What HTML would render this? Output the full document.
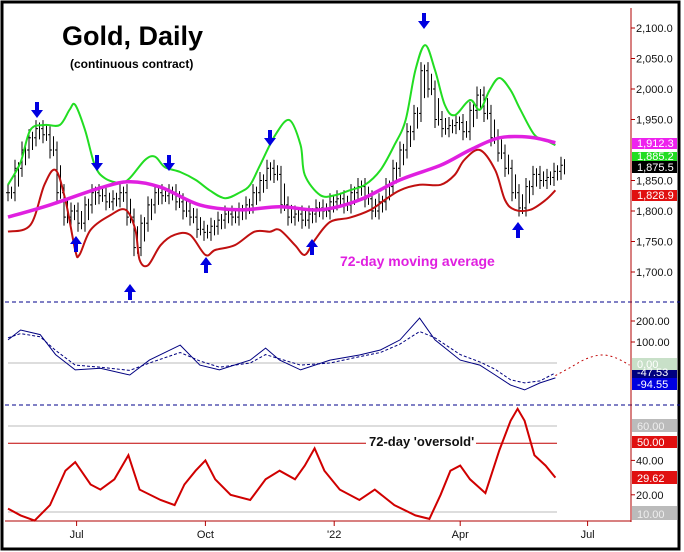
<!DOCTYPE html>
<html><head><meta charset="utf-8"><style>
html,body{margin:0;padding:0;background:#fff}
svg{display:block;font-family:"Liberation Sans",sans-serif}
</style></head><body>
<svg id="chart" width="684" height="552" viewBox="0 0 684 552">
<rect x="2" y="2" width="677" height="547" fill="#fff" stroke="#000" stroke-width="3"/>
<g id="grid"></g>
<g id="marks"></g>
<g id="annot"></g>
</svg>
<script>
// ---- data ----
const priceDays = Array.from({length:80},(_,i)=>i*5);
const closes = [1830,1870,1900,1920,1935,1925,1900,1830,1790,1800,1780,1810,1830,1825,1815,1820,1830,1790,1740,1780,1810,1830,1825,1830,1815,1800,1790,1770,1765,1775,1785,1795,1790,1800,1810,1830,1850,1870,1860,1810,1790,1795,1785,1795,1805,1800,1815,1820,1810,1830,1840,1820,1800,1815,1840,1870,1900,1930,1960,2030,2000,1950,1935,1940,1945,1930,1965,1990,1960,1920,1895,1870,1830,1805,1840,1860,1850,1855,1865,1875];
const upperX = [0,9,16,26,37,44,48,55,62,69,80,87,98,105,112,123,134,144,155,166,173,180,191,201,209,212,223,234,244,255,266,276,284,291,298,305,312,319,330,337,344,351,359,366,376,384,391];
const upperBand = [1843,1880,1933,1941,1941,1966,1974,1933,1875,1854,1846,1854,1884,1889,1872,1864,1851,1834,1821,1831,1843,1875,1925,1949,1908,1859,1826,1826,1834,1843,1867,1908,1949,2031,2072,2031,1974,1957,1982,1966,1998,2018,1998,1966,1925,1916,1908];
const lowerX = [0,16,26,34,41,48,51,59,73,84,91,94,100,109,119,130,141,148,162,176,187,194,205,212,219,230,244,259,269,280,294,309,319,326,337,348,355,362,373,384,391];
const lowerBand = [1766,1777,1843,1867,1818,1736,1728,1769,1793,1802,1769,1720,1711,1744,1761,1761,1728,1736,1744,1766,1766,1769,1744,1728,1752,1782,1789,1802,1818,1834,1843,1843,1859,1884,1900,1867,1818,1802,1802,1818,1834];
const maX = [0,30,66,87,109,137,166,194,223,251,280,309,330,351,373,391];
const maVals = [1790,1810,1838,1848,1839,1810,1802,1807,1802,1818,1851,1875,1900,1920,1921,1912];
const oscX = [0,9,23,34,48,66,87,101,123,137,151,173,184,194,209,230,251,266,280,294,305,323,337,348,359,369,380,391];
const oscVals = [110,157,135,40,-33,-25,-57,14,85,-10,-33,14,71,14,-33,14,38,62,110,214,110,14,-10,-57,-105,-128,-95,-71];
const oscSig = [120,140,125,60,-10,-20,-35,0,50,10,-20,0,40,20,-10,0,30,50,90,150,120,40,5,-30,-80,-95,-85,-47];
const projX = [391,402,413,424,434,444];
const projVals = [-60,-20,20,38,25,-10];
const ovX = [0,9,19,30,41,48,59,66,76,86,94,109,119,126,134,141,148,159,173,184,194,205,212,219,226,237,251,262,276,291,301,309,316,323,330,341,351,359,364,369,376,384,391];
const ovVals = [12,8,5,14,34,39,26,23,29,43,23,17,14,26,34,40,29,20,17,29,34,29,37,47,34,23,17,23,14,8,6,20,34,37,29,21,46,63,70,63,43,37,30];
const oversoldLevel = 50;
const priceTicks = [1700,1750,1800,1850,1950,2000,2050,2100];
const oscTicks = [100,200];
const ovTicks = [20,40];
const monthLabels = ["Jul","Oct","'22","Apr","Jul"];
const monthDays = [49,141,233,323,414];

// ---- scales ----
const X = d => 8 + d*1.4;
const PY = p => 28 + (2100-p)*0.61;
const OY = v => 363 - v*0.21;
const VY = v => 426 + (60-v)*1.72;
const NS='http://www.w3.org/2000/svg';
function mk(tag, attrs, parent){const e=document.createElementNS(NS,tag);for(const k in attrs)e.setAttribute(k,attrs[k]);parent.appendChild(e);return e;}
const grid=document.getElementById('grid'), marks=document.getElementById('marks'), ann=document.getElementById('annot');
function pathFrom(xs, vs, fy){return xs.map((d,i)=>(i?'L':'M')+X(d).toFixed(1)+','+fy(vs[i]).toFixed(1)).join('');}
function smooth(xs, vs, fy){
  const p=xs.map((d,i)=>[X(d),fy(vs[i])]);
  let s='M'+p[0][0].toFixed(1)+','+p[0][1].toFixed(1);
  for(let i=0;i<p.length-1;i++){
    const p0=p[i-1]||p[i],p1=p[i],p2=p[i+1],p3=p[i+2]||p2;
    const c1=[p1[0]+(p2[0]-p0[0])/6,p1[1]+(p2[1]-p0[1])/6];
    const c2=[p2[0]-(p3[0]-p1[0])/6,p2[1]-(p3[1]-p1[1])/6];
    s+='C'+c1.map(v=>v.toFixed(1)).join(',')+' '+c2.map(v=>v.toFixed(1)).join(',')+' '+p2.map(v=>v.toFixed(1)).join(',');
  }
  return s;
}

let e;
e=mk('line',{x1:5,x2:680,y1:302,y2:302,stroke:'#00008b','stroke-dasharray':'4,3'},grid);


e=mk('line',{x1:5,x2:680,y1:405,y2:405,stroke:'#00008b','stroke-dasharray':'4,3'},grid);


e=mk('line',{x1:631,x2:631,y1:8,y2:522,stroke:'#b00000','stroke-width':1},grid);


e=mk('line',{x1:5,x2:631,y1:521,y2:521,stroke:'#b00000','stroke-width':1},grid);


[[363,'zero-line'],[VY(60),'level-60-line'],[VY(10),'level-10-line']].forEach(([y,n])=>{
  const l=mk('line',{x1:8,x2:557,y1:y,y2:y,stroke:'#bbb'},grid);
  
  
});
e=mk('line',{x1:8,x2:557,y1:VY(oversoldLevel),y2:VY(oversoldLevel),stroke:'#c00000'},grid);



priceTicks.forEach(p=>{
  mk('line',{x1:631,x2:635,y1:PY(p),y2:PY(p),stroke:'#b00000'},grid);
  const t=mk('text',{x:636,y:PY(p)+4,'font-size':11,fill:'#111'},grid);
  t.textContent=p.toLocaleString('en-US',{minimumFractionDigits:1});
  
  
});
oscTicks.forEach(v=>{
  mk('line',{x1:631,x2:635,y1:OY(v),y2:OY(v),stroke:'#b00000'},grid);
  const t=mk('text',{x:636,y:OY(v)+4,'font-size':11,fill:'#111'},grid);
  t.textContent=v.toFixed(2);
  
  
});
ovTicks.forEach(v=>{
  mk('line',{x1:631,x2:635,y1:VY(v),y2:VY(v),stroke:'#b00000'},grid);
  const t=mk('text',{x:636,y:VY(v)+4,'font-size':11,fill:'#111'},grid);
  t.textContent=v.toFixed(2);
  
  
});
monthLabels.forEach((m,i)=>{
  const x=X(monthDays[i]);
  mk('line',{x1:x,x2:x,y1:521,y2:526,stroke:'#b00000'},grid);
  const t=mk('text',{x:x,y:538,'font-size':11,fill:'#111','text-anchor':'middle'},grid);
  t.textContent=m;
  
  
});

closes.forEach((c,i)=>{
  const x=X(priceDays[i]);
  const prev=i?closes[i-1]:c;
  const hi=Math.max(c,prev)+14, lo=Math.min(c,prev)-14;
  const g=mk('g',{stroke:'#000','stroke-width':1},marks);
  
  
  mk('line',{x1:x,x2:x,y1:PY(hi),y2:PY(lo)},g);
  mk('line',{x1:x-2,x2:x,y1:PY(prev),y2:PY(prev)},g);
  mk('line',{x1:x,x2:x+2,y1:PY(c),y2:PY(c)},g);
  const x2=x+3.5, mid=(c+prev)/2;
  mk('line',{x1:x2,x2:x2,y1:PY(Math.max(c,mid)+10),y2:PY(Math.min(c,mid)-10)},g);
});
e=mk('path',{d:smooth(upperX,upperBand,PY),fill:'none',stroke:'#22dd22','stroke-width':2},marks);


e=mk('path',{d:smooth(lowerX,lowerBand,PY),fill:'none',stroke:'#c01010','stroke-width':2},marks);


e=mk('path',{d:smooth(maX,maVals,PY),fill:'none',stroke:'#e020e0','stroke-width':3.5},marks);


e=mk('path',{d:pathFrom(oscX,oscSig,OY),fill:'none',stroke:'#000080','stroke-dasharray':'3,2'},marks);


e=mk('path',{d:pathFrom(oscX,oscVals,OY),fill:'none',stroke:'#000080','stroke-width':1},marks);


e=mk('path',{d:smooth(projX,projVals,OY),fill:'none',stroke:'#c00000','stroke-dasharray':'2,3'},marks);


e=mk('path',{d:pathFrom(ovX,ovVals,VY),fill:'none',stroke:'#d00000','stroke-width':2},marks);



function arrow(x,y,down,name){
  const g=mk('g',{fill:'#0000e0'},ann);
  
  
  if(down){mk('rect',{x:x-2,y:y,width:4,height:9},g);mk('polygon',{points:`${x-6},${y+8} ${x+6},${y+8} ${x},${y+16}`},g);}
  else{mk('rect',{x:x-2,y:y+7,width:4,height:9},g);mk('polygon',{points:`${x-6},${y+8} ${x+6},${y+8} ${x},${y}`},g);}
}
[[37,102],[97,155],[169,155],[270,130],[424,13]].forEach(a=>arrow(a[0],a[1],true,'cycle-top-arrow'));
[[76,236],[130,284],[206,257],[312,239],[518,222]].forEach(a=>arrow(a[0],a[1],false,'cycle-bottom-arrow'));

function box(y,h,bg,fg,txt,name){
  const g=mk('g',{},ann);
  
  
  mk('rect',{x:632,y:y,width:45,height:h,fill:bg},g);
  const t=mk('text',{x:637,y:y+h-2,'font-size':11,fill:fg},g);t.textContent=txt;
}
box(152,10,'#22dd22','#fff','1,885.2','upper-band-value');
box(138,11,'#ee22ee','#fff','1,912.3','ma-value');
box(161,12,'#000','#fff','1,875.5','close-value');
box(190,11,'#e01010','#fff','1,828.9','lower-band-value');
box(358,12,'#c8e0c8','#fff','0.00','zero-value');
box(370,8,'#000080','#fff','-47.53','signal-value');
box(378,12,'#0000e0','#fff','-94.55','oscillator-value');
box(419,13,'#bbb','#eee','60.00','level-60-value');
box(436,12,'#e01010','#fff','50.00','level-50-value');
box(471,13,'#e01010','#fff','29.62','oversold-value');
box(506,14,'#bbb','#eee','10.00','level-10-value');

let t=mk('text',{x:62,y:45,'font-size':27,'font-weight':'bold',fill:'#000'},ann);t.textContent='Gold, Daily';


t=mk('text',{x:70,y:68,'font-size':12,'font-weight':'bold',fill:'#000'},ann);t.textContent='(continuous contract)';


t=mk('text',{x:340,y:266,'font-size':14,'font-weight':'bold',fill:'#e020e0'},ann);t.textContent='72-day moving average';


mk('rect',{x:366,y:433,width:110,height:15,fill:'#fff'},ann);
t=mk('text',{x:369,y:446,'font-size':13,'font-weight':'bold',fill:'#111'},ann);t.textContent="72-day 'oversold'";


</script>
</body></html>
